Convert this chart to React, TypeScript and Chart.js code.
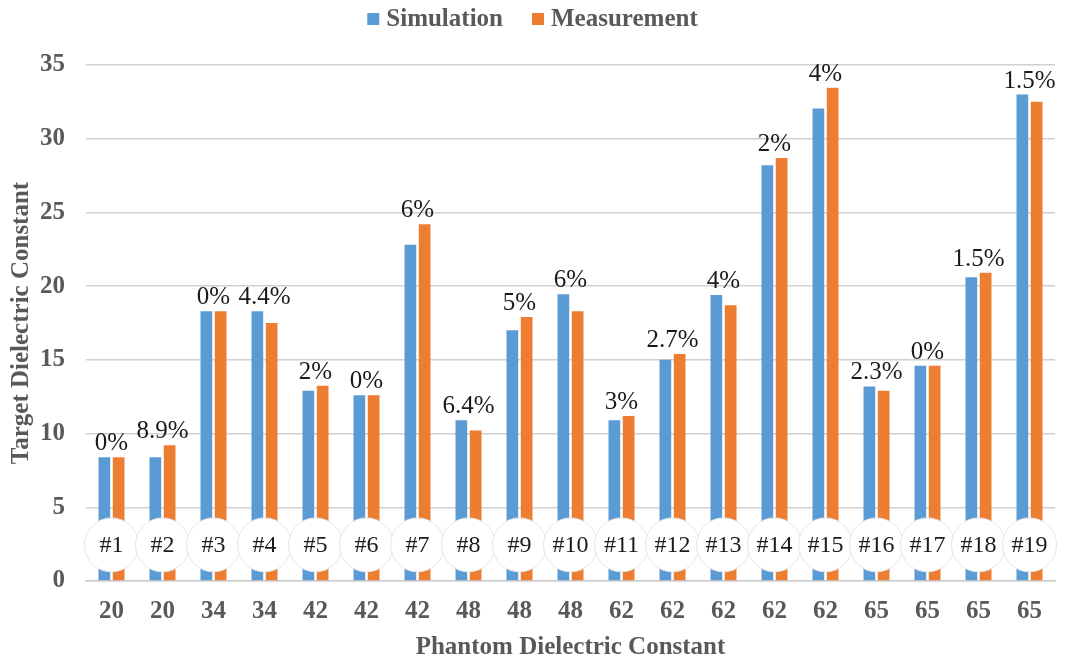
import React, { useEffect, useRef } from "react";
import { Chart, registerables } from "chart.js";

Chart.register(...registerables);

const categories = ["20", "20", "34", "34", "42", "42", "42", "48", "48", "48", "62", "62", "62", "62", "62", "65", "65", "65", "65"];
const sampleIds = ["#1", "#2", "#3", "#4", "#5", "#6", "#7", "#8", "#9", "#10", "#11", "#12", "#13", "#14", "#15", "#16", "#17", "#18", "#19"];
const simulation = [8.4, 8.4, 18.3, 18.3, 12.9, 12.6, 22.8, 10.9, 17.0, 19.45, 10.9, 15.0, 19.4, 28.2, 32.05, 13.2, 14.6, 20.6, 33.0];
const measurement = [8.4, 9.2, 18.3, 17.5, 13.25, 12.6, 24.2, 10.2, 17.9, 18.3, 11.2, 15.4, 18.7, 28.7, 33.45, 12.9, 14.6, 20.9, 32.5];
const errorLabels = ["0%", "8.9%", "0%", "4.4%", "2%", "0%", "6%", "6.4%", "5%", "6%", "3%", "2.7%", "4%", "2%", "4%", "2.3%", "0%", "1.5%", "1.5%"];
const yTicks = [0, 5, 10, 15, 20, 25, 30, 35];

const SERIF = "'Liberation Serif', 'Times New Roman', serif";
const GRAY = "#595959";

const overlayPlugin = {
  id: "overlay",
  afterDatasetsDraw(chart: any) {
    const ctx = chart.ctx;
    const xs = chart.scales.x;
    const ys = chart.scales.y;
    const m0 = chart.getDatasetMeta(0);
    const m1 = chart.getDatasetMeta(1);
    ctx.save();
    ctx.font = `25px ${SERIF}`;
    ctx.fillStyle = "#1a1a1a";
    ctx.textAlign = "center";
    ctx.textBaseline = "bottom";
    errorLabels.forEach((lab, i) => {
      const top = Math.min(m0.data[i].y, m1.data[i].y);
      ctx.fillText(lab, xs.getPixelForValue(i), top - 1);
    });
    const cy = ys.getPixelForValue(2.45);
    sampleIds.forEach((id, i) => {
      const cx = xs.getPixelForValue(i);
      ctx.beginPath();
      ctx.arc(cx, cy, 27, 0, Math.PI * 2);
      ctx.fillStyle = "#ffffff";
      ctx.fill();
      ctx.lineWidth = 1;
      ctx.strokeStyle = "#e6e6e6";
      ctx.stroke();
      ctx.fillStyle = "#1a1a1a";
      ctx.font = `24px ${SERIF}`;
      ctx.textBaseline = "middle";
      ctx.fillText(id, cx, cy + 1);
    });
    ctx.restore();
  },
  afterDraw(chart: any) {
    const ctx = chart.ctx;
    const ds = chart.data.datasets;
    ctx.save();
    ctx.font = `bold 25px ${SERIF}`;
    const box = 12;
    const boxGap = 7;
    const itemGap = 29;
    const widths = ds.map((d: any) => box + boxGap + ctx.measureText(d.label).width);
    const total = widths.reduce((a: number, b: number) => a + b, 0) + itemGap * (ds.length - 1);
    let x = chart.width / 2 - total / 2;
    const cy = 19;
    ds.forEach((d: any, i: number) => {
      ctx.fillStyle = d.backgroundColor;
      ctx.fillRect(x, cy - box / 2, box, box);
      ctx.fillStyle = GRAY;
      ctx.textAlign = "left";
      ctx.textBaseline = "middle";
      ctx.fillText(d.label, x + box + boxGap, cy + 1);
      x += widths[i] + itemGap;
    });
    ctx.restore();
  },
};

export default function App() {
  const ref = useRef<HTMLCanvasElement>(null);
  useEffect(() => {
    if (!ref.current) return;
    const chart = new Chart(ref.current, {
      type: "bar",
      data: {
        labels: categories,
        datasets: [
          { label: "Simulation", data: simulation, backgroundColor: "#5B9BD5" },
          { label: "Measurement", data: measurement, backgroundColor: "#ED7D31" },
        ],
      },
      options: {
        animation: false,
        responsive: false,
        maintainAspectRatio: false,
        layout: { padding: { left: 0, right: 10, top: 65, bottom: 0 } },
        datasets: { bar: { categoryPercentage: 0.56, barPercentage: 0.82 } },
        plugins: {
          legend: { display: false },
          tooltip: { enabled: false },
        },
        scales: {
          x: {
            grid: { display: false },
            border: { color: "#cfcfcf", width: 1.5 },
            ticks: { font: { family: SERIF, size: 25, weight: "bold" }, color: GRAY, padding: 8, maxRotation: 0 },
            title: { display: true, text: "Phantom Dielectric Constant", font: { family: SERIF, size: 25, weight: "bold" }, color: GRAY, padding: { top: 0, bottom: -3 } },
            afterFit: (s: any) => { s.height = 79; },
          },
          y: {
            min: 0,
            max: 35,
            afterBuildTicks: (s: any) => { s.ticks = yTicks.map((v) => ({ value: v })); },
            grid: { color: "#d0d0d0", lineWidth: 1.5, drawTicks: false },
            border: { display: false },
            ticks: { font: { family: SERIF, size: 25, weight: "bold" }, color: GRAY, padding: 21 },
            title: { display: true, text: "Target Dielectric Constant", font: { family: SERIF, size: 25, weight: "bold" }, color: GRAY, padding: { top: 7, bottom: 0 } },
            afterFit: (s: any) => { s.width = 86; },
          },
        },
      },
      plugins: [overlayPlugin],
    });
    return () => chart.destroy();
  }, []);
  return (
    <div style={{ position: "fixed", left: 0, top: 0, width: 1065, height: 660, background: "#fff" }}>
      <canvas ref={ref} width={1065} height={660} style={{ display: "block" }} />
    </div>
  );
}
